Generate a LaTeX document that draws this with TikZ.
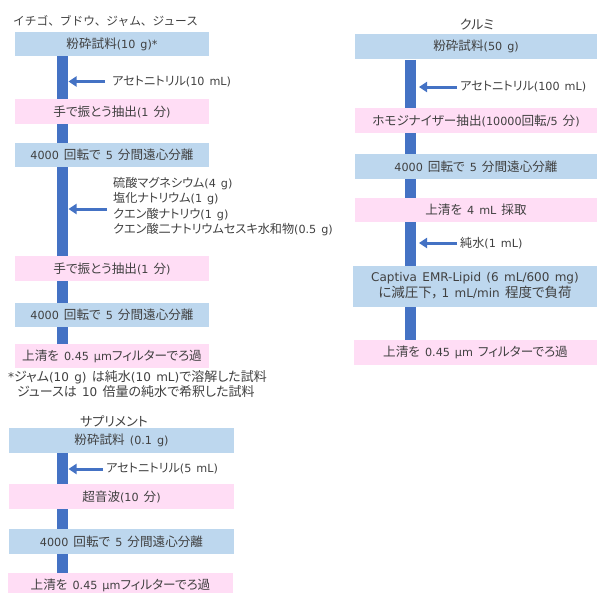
\documentclass[tikz,border=0pt]{standalone}
\usepackage{fontspec}
\setmainfont[WordSpace=1.4]{DejaVu Sans}
\newfontfamily\jpbox[Scale=1.125,RawFeature=+palt,WordSpace=1.8]{Noto Sans CJK JP}
\newfontfamily\jplab[Scale=1.0833,RawFeature=+palt,WordSpace=1.8]{Noto Sans CJK JP}
\newfontfamily\jptitle[Scale=1.0833,WordSpace=1.8]{Noto Sans CJK JP}
\let\jpcur\jpbox
\XeTeXinterchartokenstate=1
\newXeTeXintercharclass\jpclass
\makeatletter
\count@="3000
\loop\ifnum\count@<"3100 \XeTeXcharclass\count@=\jpclass \advance\count@ 1 \repeat
\count@="4E00
\loop\ifnum\count@<"A000 \XeTeXcharclass\count@=\jpclass \advance\count@ 1 \repeat
\count@="FF00
\loop\ifnum\count@<"FFF0 \XeTeXcharclass\count@=\jpclass \advance\count@ 1 \repeat
\makeatother
\XeTeXinterchartoks 0 \jpclass = {\jpcur}
\XeTeXinterchartoks 4095 \jpclass = {\jpcur}
\XeTeXinterchartoks \jpclass 0 = {\rmfamily}
\XeTeXinterchartoks 4095 0 = {\rmfamily}
\usetikzlibrary{arrows.meta,backgrounds}
\definecolor{boxblue}{HTML}{BDD7EE}
\definecolor{boxpink}{HTML}{FFDDF5}
\definecolor{barblue}{HTML}{4472C4}
\definecolor{txtgray}{HTML}{404040}
\begin{document}
\begin{tikzpicture}[x=1pt,y=-1pt,
  font=\fontsize{11.2}{15}\selectfont, text=txtgray,
  bluebox/.style={fill=boxblue, minimum height=24.5pt, inner sep=0pt, anchor=center},
  pinkbox/.style={fill=boxpink, minimum height=24.5pt, inner sep=0pt, anchor=center},
  flowbar/.style={draw=barblue, line width=11pt},
  addarrow/.style={draw=barblue, line width=3pt, -{Triangle[length=8pt,width=10pt]}},
  lbl/.style={anchor=west, inner sep=3pt, align=left, font=\fontsize{11.2}{15.6}\selectfont\let\jpcur\jplab},
  ttl/.style={inner sep=0pt, font=\fontsize{12}{15}\selectfont\let\jpcur\jplab}]
\useasboundingbox (0,0) rectangle (597,592);

% ---------- left column ----------
\node[ttl, anchor=west, font=\fontsize{10.8}{14}\selectfont\let\jpcur\jptitle] (LT) at (13,21) {イチゴ、ブドウ、ジャム、ジュース};
\coordinate (Lx) at (62.5,0);
\coordinate (Le) at (68.5,0);
\node[bluebox, minimum width=194pt] (L1) at (112,44) {粉砕試料(10 g)*};
\node[pinkbox, minimum width=194pt] (L2) at (112,111.5) {手で振とう抽出(1 分)};
\node[bluebox, minimum width=194pt] (L3) at (112,155) {4000 回転で 5 分間遠心分離};
\node[pinkbox, minimum width=194pt] (L4) at (112,268.5) {手で振とう抽出(1 分)};
\node[bluebox, minimum width=194pt] (L5) at (112,315) {4000 回転で 5 分間遠心分離};
\node[pinkbox, minimum width=194pt] (L6) at (112,356) {上清を 0.45 µmフィルターでろ過};
\node[lbl] (LA1) at (109,81.5) {アセトニトリル(10 mL)};
\node[lbl] (LA2) at (110,206.5) {硫酸マグネシウム(4 g)\\塩化ナトリウム(1 g)\\クエン酸ナトリウ(1 g)\\クエン酸二ナトリウムセスキ水和物(0.5 g)};
\node[anchor=west, inner sep=0pt, align=left, font=\fontsize{12}{15}\selectfont\let\jpcur\jplab] (LN) at (8,384.5) {*ジャム(10 g) は純水(10 mL)で溶解した試料\\\hspace*{9pt}ジュースは 10 倍量の純水で希釈した試料};

% ---------- supplement ----------
\node[ttl] (ST) at (114,421) {サプリメント};
\node[bluebox, minimum width=225pt] (S1) at (121.5,440.5) {粉砕試料 (0.1 g)};
\node[pinkbox, minimum width=225pt] (S2) at (121.5,496.5) {超音波(10 分)};
\node[bluebox, minimum width=225pt] (S3) at (121.5,541.5) {4000 回転で 5 分間遠心分離};
\node[pinkbox, minimum width=225pt] (S4) at (120.5,585.5) {上清を 0.45 µmフィルターでろ過};
\node[lbl] (SA1) at (103,469) {アセトニトリル(5 mL)};

% ---------- right column ----------
\coordinate (Rx) at (410,0);
\coordinate (Re) at (419,0);
\node[ttl] (RT) at (477,25) {クルミ};
\node[bluebox, minimum width=242pt] (R1) at (476,46.5) {粉砕試料(50 g)};
\node[pinkbox, minimum width=242pt] (R2) at (476,120.5) {ホモジナイザー抽出(10000回転/5 分)};
\node[bluebox, minimum width=242pt] (R3) at (476,166.5) {4000 回転で 5 分間遠心分離};
\node[pinkbox, minimum width=242pt] (R4) at (476,210) {上清を 4 mL 採取};
\node[bluebox, minimum width=244pt, minimum height=41pt, align=center, font=\fontsize{12}{16}\selectfont] (R5) at (475,286) {Captiva EMR-Lipid (6 mL/600 mg)\\に減圧下{\jptitle，}\hspace{3pt}1 mL/min 程度で負荷};
\node[pinkbox, minimum width=243pt] (R6) at (475.5,352.5) {上清を 0.45 µm フィルターでろ過};
\node[lbl] (RA1) at (457,87) {アセトニトリル(100 mL)};
\node[lbl] (RA2) at (457,243) {純水(1 mL)};

% ---------- bars (behind boxes) ----------
\begin{scope}[on background layer]
\draw[flowbar] (L1.south -| Lx) -- (L6.north -| Lx);
\draw[flowbar] (S1.south -| Lx) -- (S4.north -| Lx);
\draw[flowbar] ([yshift=-1pt]R1.south -| Rx) -- (R6.north -| Rx);
\end{scope}

% ---------- arrows ----------
\draw[addarrow, shorten <=4pt] (LA1.west) -- (LA1.west -| Le);
\draw[addarrow, shorten <=3pt] ([yshift=-2.5pt]LA2.west) -- ([yshift=-2.5pt]LA2.west -| Le);
\draw[addarrow] (SA1.west) -- (SA1.west -| Le);
\draw[addarrow] (RA1.west) -- (RA1.west -| Re);
\draw[addarrow] (RA2.west) -- (RA2.west -| Re);
\end{tikzpicture}
\end{document}
